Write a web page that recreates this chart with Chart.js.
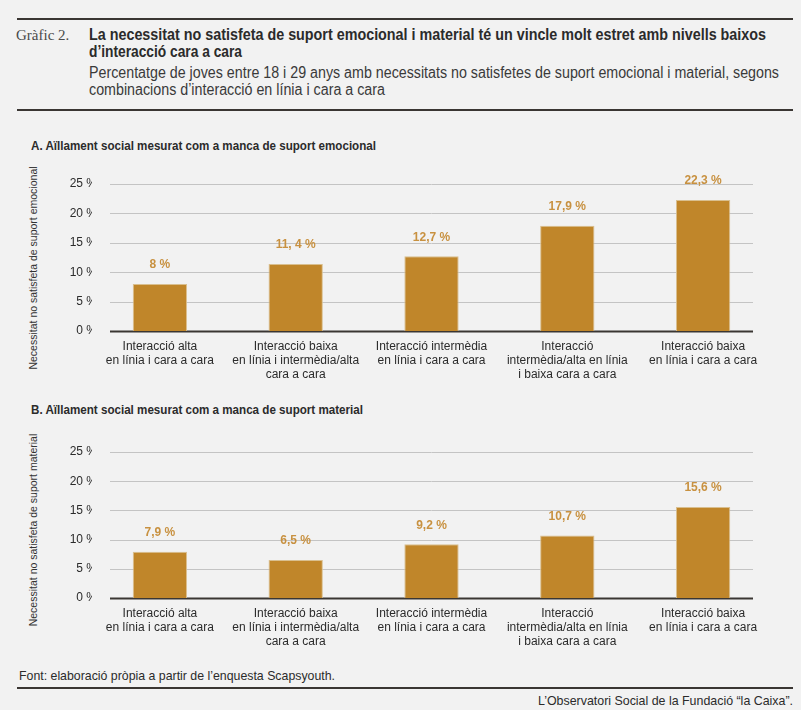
<!DOCTYPE html>
<html>
<head>
<meta charset="utf-8">
<script src="https://cdn.jsdelivr.net/npm/chart.js@4"></script>
<style>
  html, body { margin: 0; padding: 0; background: #f2f2f2; }
  body { width: 801px; height: 710px; position: relative; overflow: hidden; font-family: "Liberation Sans", Arial, sans-serif; color: #2b2b2b; }
  .rule { position: absolute; left: 17px; width: 776px; height: 2px; background: #3a3633; }
  .abs { position: absolute; white-space: nowrap; line-height: 1; }
  .fit { transform-origin: 0 50%; }
  #num { left: 16px; top: 28px; font-family: "Liberation Serif", "DejaVu Serif", serif; font-size: 15px; color: #4a4a4a; }
  .title { left: 89px; font-size: 16px; font-weight: bold; color: #2b2b2b; }
  .sub { left: 89px; font-size: 16px; color: #3a3a3a; }
  .sec { left: 31px; font-size: 13px; font-weight: bold; color: #2b2b2b; }
  .ytitle { font-size: 10.5px; color: #333; transform: translate(-50%, -50%) rotate(-90deg); }
  canvas { position: absolute; left: 0; }
  .small { font-size: 13px; color: #2b2b2b; }
</style>
</head>
<body>
<div class="rule" style="top:18px"></div>
<div class="abs" id="num">Gràfic 2.</div>
<div class="abs fit title" style="top:27px" data-w="677">La necessitat no satisfeta de suport emocional i material té un vincle molt estret amb nivells baixos</div>
<div class="abs fit title" style="top:44px" data-w="153">d’interacció cara a cara</div>
<div class="abs fit sub" style="top:65px" data-w="690">Percentatge de joves entre 18 i 29 anys amb necessitats no satisfetes de suport emocional i material, segons</div>
<div class="abs fit sub" style="top:82px" data-w="296">combinacions d’interacció en línia i cara a cara</div>
<div class="rule" style="top:109px"></div>

<div class="abs fit sec" style="top:139px" data-w="345">A. Aïllament social mesurat com a manca de suport emocional</div>
<div class="abs ytitle" style="left:33px; top:268px">Necessitat no satisfeta de suport emocional</div>
<canvas id="chartA" style="top:155px"></canvas>

<div class="abs fit sec" style="top:403px" data-w="332">B. Aïllament social mesurat com a manca de suport material</div>
<div class="abs ytitle" style="left:33px; top:530px">Necessitat no satisfeta de suport material</div>
<canvas id="chartB" style="top:420px"></canvas>

<div class="abs fit small" style="left:19px; top:669px" data-w="316">Font: elaboració pròpia a partir de l’enquesta Scapsyouth.</div>
<div class="rule" style="top:687px"></div>
<div class="abs fit small" id="credit" style="left:538px; top:694px" data-w="255">L’Observatori Social de la Fundació “la Caixa”.</div>

<script>
// categories (multi-line labels)
const categories = [
  ['Interacció alta', 'en línia i cara a cara'],
  ['Interacció baixa', 'en línia i intermèdia/alta', 'cara a cara'],
  ['Interacció intermèdia', 'en línia i cara a cara'],
  ['Interacció', 'intermèdia/alta en línia', 'i baixa cara a cara'],
  ['Interacció baixa', 'en línia i cara a cara']
];
const emotional = [8, 11.4, 12.7, 17.9, 22.3];
const emotionalLabels = ['8 %', '11, 4 %', '12,7 %', '17,9 %', '22,3 %'];
const material = [7.9, 6.5, 9.2, 10.7, 15.6];
const materialLabels = ['7,9 %', '6,5 %', '9,2 %', '10,7 %', '15,6 %'];
const yTicks = [0, 5, 10, 15, 20, 25];

const barColor = '#c0862a';
const labelColor = '#c89140';
const W = 801, H = 240;

// squeeze header lines to the condensed widths of the original
document.querySelectorAll('.fit').forEach(el => {
  const w = el.getBoundingClientRect().width;
  el.style.transform = 'scaleX(' + (el.dataset.w / w) + ')';
});

// grid drawn a bit inside the category band, like the original
const insetGrid = {
  id: 'insetGrid',
  beforeDatasetsDraw(chart) {
    const ctx = chart.ctx, a = chart.chartArea, y = chart.scales.y;
    ctx.save();
    yTicks.forEach(v => {
      const py = Math.round(y.getPixelForValue(v)) + 0.5;
      ctx.beginPath();
      ctx.strokeStyle = v === 0 ? '#3a3633' : '#c4c4c4';
      ctx.lineWidth = v === 0 ? 2 : 1;
      ctx.moveTo(a.left + 18, py);
      ctx.lineTo(a.right - 18, py);
      ctx.stroke();
    });
    ctx.restore();
  }
};

const valueLabels = {
  id: 'valueLabels',
  afterDatasetsDraw(chart) {
    const ctx = chart.ctx;
    const meta = chart.getDatasetMeta(0);
    const texts = chart.options.plugins.valueLabels.texts;
    ctx.save();
    ctx.fillStyle = labelColor;
    ctx.font = 'bold 12px "Liberation Sans", Arial, sans-serif';
    ctx.textAlign = 'center';
    ctx.textBaseline = 'middle';
    meta.data.forEach((bar, i) => {
      ctx.fillText(texts[i], bar.x, bar.y - 19);
    });
    ctx.restore();
  }
};

function makeChart(id, values, texts, padTop, axisH) {
  const cv = document.getElementById(id);
  cv.width = W; cv.height = H;
  cv.style.width = W + 'px'; cv.style.height = H + 'px';
  return new Chart(cv.getContext('2d'), {
    type: 'bar',
    data: {
      labels: categories,
      datasets: [{
        data: values,
        backgroundColor: barColor,
        borderColor: '#d9bf8f',
        borderWidth: 1,
        categoryPercentage: 1,
        barPercentage: 0.4
      }]
    },
    options: {
      responsive: false,
      animation: false,
      devicePixelRatio: 1,
      layout: { padding: { top: padTop, right: 30, left: 0, bottom: 0 } },
      plugins: {
        legend: { display: false },
        tooltip: { enabled: false },
        valueLabels: { texts: texts }
      },
      scales: {
        x: {
          grid: { display: false, drawTicks: false },
          border: { display: false },
          ticks: {
            color: '#2b2b2b',
            padding: 9,
            maxRotation: 0,
            autoSkip: false,
            font: { family: '"Liberation Sans", Arial, sans-serif', size: 12, lineHeight: 1.17 }
          },
          afterFit: s => { s.height = axisH; }
        },
        y: {
          min: 0,
          max: 25,
          grid: { display: false, drawTicks: false },
          border: { display: false },
          afterBuildTicks: s => { s.ticks = yTicks.map(v => ({ value: v })); },
          ticks: {
            color: '#2b2b2b',
            padding: -5,
            callback: v => v + ' %',
            font: { family: '"Liberation Sans", Arial, sans-serif', size: 12 }
          },
          afterFit: s => { s.width = 92; }
        }
      }
    },
    plugins: [insetGrid, valueLabels]
  });
}

makeChart('chartA', emotional, emotionalLabels, 29, 64);
makeChart('chartB', material, materialLabels, 32, 62);
</script>
</body>
</html>
